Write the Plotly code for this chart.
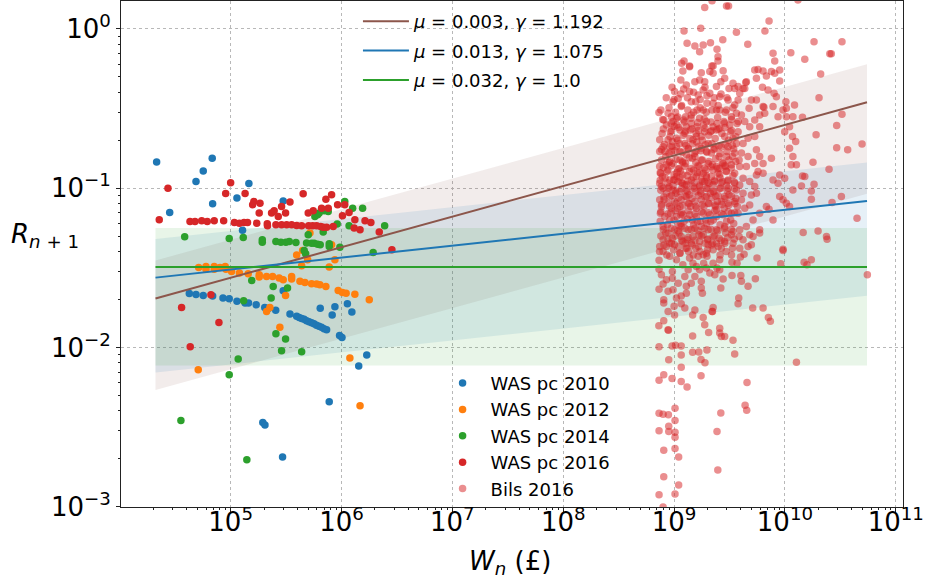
import plotly.graph_objects as go

# ---------------- data ----------------
x_tick_vals = [1e5, 1e6, 1e7, 1e8, 1e9, 1e10, 1e11]
x_tick_text = ["10<sup>5</sup>", "10<sup>6</sup>", "10<sup>7</sup>", "10<sup>8</sup>",
               "10<sup>9</sup>", "10<sup>10</sup>", "10<sup>11</sup>"]
y_tick_vals = [1e-3, 1e-2, 1e-1, 1e0]
y_tick_text = ["10<sup>−3</sup>", "10<sup>−2</sup>", "10<sup>−1</sup>", "10<sup>0</sup>"]

was2010_w = [2.15e4, 6.82e4, 5.66e4, 4.87e4, 1.46e5, 1.14e5, 6.88e4, 2.82e4, 1.28e5, 2.98e5,
             4.24e4, 4.87e4, 5.66e4, 6.88e4, 8.53e4, 9.71e4, 1.14e5, 1.35e5, 1.45e5, 1.70e5,
             2.03e5, 2.21e5, 2.55e5, 3.43e5,
             3.94e5, 4.15e5, 4.37e5, 4.6e5, 4.84e5, 5.1e5, 5.37e5, 5.65e5, 5.95e5, 6.26e5,
             6.6e5, 6.95e5, 7.34e5,
             2.98e5, 6.43e5, 8.72e5, 8.24e5, 1.13e6, 1.24e6, 9.61e5, 1.01e6, 1.69e6, 1.43e6,
             7.75e5, 1.95e5, 2.04e5, 2.94e5]
was2010_r = [0.146, 0.154, 0.128, 0.110, 0.107, 0.0866, 0.0797, 0.0703, 0.0545, 0.0829,
             0.0218, 0.0215, 0.0212, 0.0210, 0.0204, 0.0202, 0.0195, 0.0190, 0.0190, 0.0185,
             0.0178, 0.0176, 0.0171, 0.0162,
             0.0157, 0.0154, 0.0152, 0.0150, 0.0147, 0.0145, 0.0143, 0.0141, 0.0138, 0.0136,
             0.0134, 0.0131, 0.0129,
             0.0227, 0.0176, 0.0180, 0.0160, 0.0188, 0.0167, 0.0119, 0.01156, 0.00896, 0.00764,
             0.00456, 0.00338, 0.00326, 0.00205]

was2012_w = [5.15e4, 5.99e4, 5.99e4, 7.11e4, 7.11e4, 8.01e4, 8.94e4, 9.07e4, 1.02e5, 1.20e5,
             1.44e5, 1.81e5, 1.81e5, 2.11e5, 2.39e5, 2.74e5, 2.98e5, 3.55e5, 3.55e5, 4.22e5,
             4.68e5, 5.37e5, 5.96e5, 6.38e5, 7.23e5, 9.34e5, 1.02e6, 1.10e6, 1.32e6, 1.78e6,
             3.94e5, 4.46e5, 5.19e5, 4.95e5, 8.72e5, 7.75e5, 8.14e5, 4.37e5, 3.13e5, 2.78e5,
             2.11e5, 2.26e5, 1.19e6, 5.1e4, 1.47e6]
was2012_r = [0.0318, 0.0322, 0.0310, 0.0322, 0.0310, 0.0318, 0.0322, 0.0310, 0.0300, 0.0293,
             0.0290, 0.0286, 0.0277, 0.0279, 0.0279, 0.0273, 0.0266, 0.0279, 0.0269, 0.0260,
             0.0256, 0.0251, 0.0250, 0.0247, 0.0241, 0.0228, 0.0221, 0.0219, 0.0216, 0.0199,
             0.0380, 0.0406, 0.0522, 0.0355, 0.0355, 0.0320, 0.0441, 0.0326, 0.0212, 0.0134,
             0.0168, 0.0178, 0.00858, 0.00724, 0.00431]

was2014_w = [3.85e4, 9.71e4, 1.30e5, 1.93e5, 1.93e5, 2.56e5, 2.84e5, 3.15e5, 3.38e5, 3.88e5,
             4.84e5, 5.37e5, 5.67e5, 6.09e5, 6.43e5, 7.75e5, 7.75e5, 9.67e5, 1.93e6, 5.01e5,
             6.84e5, 9.15e5, 1.07e6, 1.26e6, 1.55e6, 5.75e5, 6.09e5, 6.29e5, 7.59e5, 6.98e5,
             1.17e6, 2.45e6, 4.75e5, 4.61e5, 1.55e5, 2.42e5, 3.26e5, 2.32e5, 1.31e5, 2.56e5,
             3.13e5, 2.88e5, 4.37e5, 1.17e5, 9.71e4, 3.56e4, 1.40e5]
was2014_r = [0.0495, 0.0483, 0.049, 0.0474, 0.0458, 0.0462, 0.0458, 0.0458, 0.0462, 0.0456,
             0.0452, 0.045, 0.045, 0.0445, 0.0441, 0.0448, 0.0430, 0.0426, 0.0394, 0.0509,
             0.0530, 0.0595, 0.0824, 0.0749, 0.0749, 0.0664, 0.068, 0.0697, 0.0714, 0.0721,
             0.058, 0.058, 0.0387, 0.0406, 0.0263, 0.0241, 0.0236, 0.0204, 0.0196, 0.0122,
             0.0113, 0.00953, 0.0094, 0.00846, 0.00674, 0.00347, 0.00197]

was2016_w = [2.72e4, 2.27e4, 1.0e5, 9.02e4, 1.35e5, 1.62e5, 1.58e5, 1.84e5, 1.81e5, 2.34e5,
             2.47e5, 2.69e5, 2.88e5, 3.13e5, 3.43e5, 4.51e5, 5.01e5, 5.56e5, 6.61e5, 7.23e5,
             7.59e5, 8.14e5, 9.22e5, 1.07e6, 1.02e6, 1.17e6, 1.32e6, 1.63e6, 1.84e6, 1.30e6,
             1.47e6, 2.19e6, 2.85e6,
             4.30e4, 4.77e4, 5.48e4, 6.15e4, 7.11e4, 8.65e4, 1.08e5, 1.20e5, 1.32e5, 1.42e5,
             1.72e5, 2.14e5, 2.15e5, 2.56e5, 2.88e5, 3.20e5, 3.55e5, 3.94e5, 4.37e5, 5.05e5,
             5.49e5, 5.96e5, 6.48e5, 6.84e5, 7.34e5, 8.42e5,
             6.64e4, 3.61e4, 7.84e4, 4.32e4]
was2016_r = [0.100, 0.0633, 0.108, 0.0925, 0.0925, 0.0824, 0.0786, 0.0805, 0.0697, 0.0697,
             0.0721, 0.0664, 0.0767, 0.0697, 0.0817, 0.0921, 0.0697, 0.0721, 0.0749, 0.0853,
             0.0749, 0.0908, 0.0786, 0.0786, 0.067, 0.0703, 0.0633, 0.0623, 0.0608, 0.0561,
             0.0547, 0.0530, 0.0410,
             0.0617, 0.0617, 0.0623, 0.0617, 0.0623, 0.0623, 0.0608, 0.0603, 0.0608, 0.0608,
             0.0603, 0.0597, 0.058, 0.0589, 0.0589, 0.0589, 0.0589, 0.0582, 0.058, 0.058,
             0.058, 0.058, 0.0574, 0.0569, 0.0569, 0.0574,
             0.0214, 0.0178, 0.01435, 0.0101]

# Bils 2016 -- upper outliers
bils_outer_w = [2.2e9, 1.89e9, 2.97e9, 3.1e9, 1.31e10, 7.19e9, 1.23e9, 1.74e9, 3.65e9, 6.6e9,
                1.31e9, 1.54e9, 1.83e9, 2.13e9, 2.75e9, 4.62e9, 2.44e9, 1.83e10, 3.27e10, 1.13e10,
                7.81e9, 2.54e10, 2.62e10, 1.51e10, 8.09e9, 1.17e9, 1.23e9, 1.38e9, 2.19e9, 2.49e9,
                2.10e10, 2.03e10, 3.27e10, 2.93e10, 4.96e10, 3.68e10, 2.93e10, 1.91e10, 1.79e10, 2.50e10,
                1.83e10, 1.73e10, 1.73e10, 2.66e10, 3.23e10, 4.47e10, 1.46e10, 1.99e10, 2.37e10, 2.40e10,
                9.61e9, 1.44e10, 1.51e10]
bils_outer_r = [1.50, 1.36, 1.39, 1.39, 1.52, 1.12, 0.969, 1.01, 0.951, 0.969,
                0.811, 0.78, 0.792, 0.819, 0.855, 0.80, 0.744, 0.831, 0.831, 0.709,
                0.702, 0.699, 0.699, 0.644, 0.629, 0.608, 0.629, 0.585, 0.585, 0.629,
                0.521, 0.370, 0.291, 0.247, 0.189, 0.174, 0.179, 0.216, 0.1454, 0.1314,
                0.1058, 0.0961, 0.0852, 0.0812, 0.0886, 0.0648, 0.0526, 0.0539, 0.0497, 0.0478,
                0.0414, 0.1193, 0.1182]

# Bils 2016 -- right flank of the cloud
bils_mid_w = [5.34e9, 5.72e9, 5.53e9, 6.35e9, 6.8e9, 7.55e9, 8.09e9, 8.97e9, 8.97e9, 4.49e9,
              4.34e9, 3.78e9, 3.52e9, 6.27e9, 7.04e9, 7.98e9, 8.37e9, 1.02e10, 1.22e10, 1.03e10,
              9.61e9, 8.67e9, 1.03e10, 1.18e10, 1.44e10, 7.81e9, 6.46e9, 5.92e9, 1.10e10, 9.95e9,
              1.17e10, 1.25e10, 1.10e10, 1.18e10, 7.55e9, 6.35e9, 5.72e9, 6.35e9, 8.97e9, 9.95e9,
              1.14e10, 1.27e10, 7.81e9, 8.67e9, 8.97e9, 9.61e9, 6.8e9, 7.19e9, 7.81e9, 5.92e9,
              4.81e9, 4.98e9, 5.53e9, 5.34e9, 4.81e9, 1.18e10, 1.41e10, 1.03e10, 1.10e10]
bils_mid_r = [0.552, 0.556, 0.489, 0.544, 0.506, 0.539, 0.526, 0.552, 0.471, 0.466,
              0.423, 0.434, 0.423, 0.430, 0.413, 0.394, 0.375, 0.349, 0.333, 0.317,
              0.310, 0.281, 0.281, 0.281, 0.279, 0.325, 0.322, 0.288, 0.243, 0.226,
              0.211, 0.196, 0.178, 0.158, 0.154, 0.143, 0.127, 0.124, 0.121, 0.1154,
              0.140, 0.140, 0.1126, 0.1073, 0.0886, 0.0844, 0.0766, 0.0738, 0.0632, 0.0547,
              0.0509, 0.0441, 0.0929, 0.1023, 0.0785, 0.0975, 0.1033, 0.0804, 0.0766]

# Bils 2016 -- dense core
bils_core_w = [7.3e8, 8.83e8, 9.6e8, 1.01e9, 1.15e9, 1.2e9, 1.38e9, 1.54e9, 1.70e9, 1.76e9,
               1.89e9, 2.10e9, 2.25e9, 2.25e9, 2.77e9, 2.64e9, 2.86e9, 3.13e9, 3.40e9, 3.78e9,
               3.91e9, 4.19e9, 4.43e9, 4.75e9, 4.98e9, 5.53e9, 6.35e9, 6.57e9, 9.79e8, 1.09e9,
               1.16e9, 1.27e9, 1.43e9, 1.57e9, 1.61e9, 1.83e9, 1.98e9, 2.25e9, 2.41e9, 2.58e9,
               2.97e9, 3.29e9, 3.65e9, 4.05e9, 4.34e9, 4.81e9, 5.34e9, 5.92e9, 5.34e9, 4.65e9,
               4.19e9, 3.40e9, 2.86e9, 2.58e9, 2.25e9, 1.96e9, 1.70e9, 1.43e9, 1.29e9, 1.13e9,
               9.79e8, 8.83e8, 7.42e8, 7.42e8, 8.24e8, 9.14e8, 1.05e9, 1.25e9, 1.48e9, 1.76e9,
               2.03e9, 2.33e9, 2.67e9, 3.07e9, 3.52e9, 4.05e9, 4.65e9, 5.53e9, 5.92e9, 5.34e9,
               4.49e9, 3.91e9, 3.29e9, 2.77e9, 2.41e9, 2.03e9, 1.76e9, 1.54e9, 1.29e9, 1.13e9,
               9.79e8, 8.53e8, 7.42e8, 7.42e8, 7.96e8, 9.14e8, 1.05e9, 1.2e9, 1.38e9, 1.59e9,
               1.83e9, 2.17e9, 2.49e9, 2.97e9, 3.52e9, 4.19e9, 4.81e9, 5.53e9, 4.98e9, 4.19e9,
               3.65e9, 3.07e9, 2.58e9, 2.25e9, 1.96e9, 1.70e9, 1.48e9, 1.29e9, 1.13e9, 9.79e8,
               8.53e8, 7.42e8, 7.69e8, 8.83e8, 1.01e9, 1.16e9, 1.34e9, 1.54e9, 1.76e9, 2.03e9,
               2.33e9, 2.67e9, 3.07e9, 3.52e9, 4.05e9, 4.34e9, 3.78e9, 3.29e9, 2.77e9, 2.41e9,
               2.10e9, 1.83e9, 1.59e9, 1.38e9, 1.2e9, 1.05e9, 9.14e8, 7.96e8, 8.83e8, 1.01e9,
               1.16e9, 1.34e9, 1.54e9, 1.76e9, 2.03e9, 2.41e9, 2.86e9, 3.40e9, 3.91e9, 4.49e9,
               5.16e9, 5.92e9, 5.16e9, 4.19e9, 3.40e9, 2.86e9, 2.41e9, 2.03e9, 1.70e9, 1.43e9,
               1.2e9, 1.01e9, 8.53e8, 7.96e8, 9.46e8, 1.25e9, 1.59e9, 2.17e9, 2.97e9, 2.58e9,
               2.10e9, 1.83e9, 1.65e9, 1.38e9, 1.29e9, 3.07e9, 3.52e9, 2.41e9, 9.14e8, 8.53e8,
               9.46e8, 1.05e9, 1.43e9, 1.57e9, 1.96e9, 2.41e9, 1.89e9, 1.25e9, 1.05e9, 3.18e9,
               3.78e9, 3.65e9, 1.76e9, 1.34e9, 1.13e9, 9.46e8, 7.96e8, 3.07e9, 3.52e9, 2.33e9,
               1.89e9, 1.43e9, 1.09e9, 9.14e8, 1.29e9, 1.96e9, 2.86e9, 3.91e9, 1.59e9, 2.41e9,
               1.13e9, 8.24e8, 1.48e9, 2.25e9, 3.29e9, 3.91e9, 1.16e9, 9.14e8, 1.83e9, 2.67e9,
               4.65e9, 5.92e9, 1.70e9, 2.49e9]
bils_core_r = [0.298, 0.295, 0.430, 0.404, 0.478, 0.544, 0.579, 0.466, 0.478, 0.531,
               0.466, 0.539, 0.585, 0.526, 0.546, 0.466, 0.489, 0.423, 0.455, 0.358,
               0.394, 0.423, 0.460, 0.317, 0.358, 0.358, 0.325, 0.295, 0.349, 0.366,
               0.325, 0.281, 0.349, 0.349, 0.310, 0.310, 0.341, 0.341, 0.310, 0.310,
               0.310, 0.281, 0.295, 0.288, 0.262, 0.243, 0.268, 0.243, 0.211, 0.206,
               0.191, 0.206, 0.211, 0.238, 0.243, 0.262, 0.275, 0.255, 0.243, 0.232,
               0.262, 0.201, 0.201, 0.170, 0.170, 0.182, 0.182, 0.191, 0.201, 0.211,
               0.191, 0.178, 0.182, 0.182, 0.166, 0.166, 0.158, 0.174, 0.158, 0.143,
               0.1366, 0.1366, 0.140, 0.143, 0.1366, 0.143, 0.150, 0.158, 0.162, 0.150,
               0.143, 0.140, 0.1366, 0.1073, 0.0999, 0.1126, 0.1182, 0.121, 0.127, 0.1182,
               0.124, 0.1182, 0.124, 0.127, 0.124, 0.1154, 0.110, 0.121, 0.0907, 0.0929,
               0.0975, 0.0999, 0.0999, 0.0952, 0.0999, 0.1023, 0.1023, 0.0975, 0.0952, 0.0975,
               0.0929, 0.0844, 0.0766, 0.0804, 0.0824, 0.0844, 0.0804, 0.0824, 0.0844, 0.0804,
               0.0785, 0.0824, 0.0804, 0.0824, 0.0844, 0.0748, 0.0696, 0.0696, 0.068, 0.0663,
               0.068, 0.0696, 0.0663, 0.068, 0.068, 0.0663, 0.0632, 0.0574, 0.0522, 0.0547,
               0.0574, 0.0547, 0.056, 0.0574, 0.0547, 0.0547, 0.0574, 0.0534, 0.0547, 0.0574,
               0.0632, 0.0522, 0.0497, 0.0474, 0.0451, 0.0462, 0.0451, 0.0441, 0.0462, 0.0451,
               0.0462, 0.0441, 0.043, 0.0474, 0.0748, 0.1048, 0.211, 0.166, 0.158, 0.375,
               0.394, 0.413, 0.385, 0.404, 0.444, 0.358, 0.333, 0.434, 0.147, 0.249,
               0.281, 0.275, 0.288, 0.170, 0.170, 0.232, 0.226, 0.221, 0.206, 0.249,
               0.226, 0.191, 0.178, 0.178, 0.170, 0.170, 0.182, 0.1126, 0.1073, 0.110,
               0.110, 0.1126, 0.110, 0.0886, 0.0886, 0.0886, 0.0886, 0.1048, 0.0748, 0.0731,
               0.0766, 0.0663, 0.0497, 0.0497, 0.0509, 0.042, 0.0497, 0.0451, 0.0509, 0.042,
               0.043, 0.0696, 0.719, 0.669]

bils_fill_w = [8.07e8, 9.27e8, 1.06e9, 1.22e9, 1.40e9, 1.61e9, 1.85e9, 2.13e9, 2.44e9, 2.81e9, 3.22e9, 3.70e9,
               8.41e8, 9.66e8, 1.11e9, 1.27e9, 1.46e9, 1.68e9, 1.93e9, 2.22e9, 2.55e9, 2.92e9, 3.36e9, 3.86e9,
               7.85e8, 9.02e8, 1.04e9, 1.19e9, 1.37e9, 1.57e9, 1.80e9, 2.07e9, 2.38e9, 2.73e9, 3.13e9, 3.60e9,
               8.12e8, 9.33e8, 1.07e9, 1.23e9, 1.41e9, 1.62e9, 1.86e9, 2.14e9, 2.46e9, 2.83e9, 3.24e9, 3.73e9,
               8.41e8, 9.66e8, 1.11e9, 1.27e9, 1.46e9, 1.68e9, 1.93e9, 2.22e9, 2.55e9, 2.92e9, 3.36e9, 3.86e9,
               7.53e8, 7.69e8, 7.58e8, 7.42e8, 8.65e8, 1.15e9, 1.32e9, 2.0e9, 1.57e9, 9.9e8, 2.58e9, 2.13e9]
bils_fill_r = [0.268, 0.226, 0.249, 0.268, 0.232, 0.243, 0.249, 0.226, 0.255, 0.262, 0.226, 0.255,
               0.158, 0.196, 0.133, 0.143, 0.154, 0.137, 0.130, 0.140, 0.158, 0.137, 0.158, 0.150,
               0.118, 0.102, 0.093, 0.107, 0.091, 0.095, 0.110, 0.107, 0.089, 0.110, 0.091, 0.0865,
               0.0844, 0.0696, 0.0748, 0.0617, 0.0766, 0.0617, 0.0766, 0.0617, 0.0824, 0.0748, 0.0632, 0.0766,
               0.0522, 0.0485, 0.0522, 0.042, 0.0632, 0.0509, 0.0632, 0.0451, 0.0485, 0.0522, 0.042, 0.0497,
               0.0696, 0.1023, 0.124, 0.043, 0.127, 0.068, 0.0474, 0.0474, 0.042, 0.1126, 0.1334, 0.0929]

# Bils 2016 -- more of the saturated core
bils_dense_w = [7.6e8, 9.0e8, 1.03e9, 1.17e9, 1.33e9, 1.50e9, 1.72e9, 1.95e9, 2.2e9, 2.5e9, 2.9e9, 3.4e9,
                7.8e8, 9.2e8, 1.08e9, 1.21e9, 1.39e9, 1.58e9, 1.8e9, 2.05e9, 2.35e9, 2.7e9, 3.1e9, 3.6e9,
                7.7e8, 9.0e8, 1.02e9, 1.18e9, 1.35e9, 1.52e9, 1.74e9, 1.98e9, 2.28e9, 2.6e9, 3.0e9, 3.45e9,
                7.5e8, 8.8e8, 1.0e9, 1.14e9, 1.31e9, 1.5e9, 1.7e9, 1.95e9, 2.24e9, 2.58e9, 2.95e9, 3.4e9,
                7.6e8, 8.9e8, 1.03e9, 1.17e9, 1.33e9, 1.52e9, 1.73e9, 1.99e9, 2.29e9, 2.63e9, 3.02e9, 3.5e9,
                7.7e8, 9.1e8, 1.04e9, 1.2e9, 1.37e9, 1.57e9, 1.8e9, 2.06e9, 2.36e9, 2.7e9, 3.1e9, 3.55e9,
                7.5e8, 8.7e8, 1.0e9, 1.15e9, 1.32e9, 1.5e9, 1.72e9, 1.97e9, 2.26e9, 2.6e9, 2.98e9, 3.45e9,
                7.6e8, 8.8e8, 1.02e9, 1.17e9, 1.34e9, 1.54e9, 1.77e9, 2.02e9, 2.32e9, 2.66e9, 3.05e9, 3.5e9,
                7.4e8, 8.6e8, 9.9e8, 1.13e9, 1.3e9, 1.49e9, 1.71e9, 1.96e9, 2.25e9, 2.6e9, 2.95e9, 3.3e9,
                7.9e8, 9.4e8, 1.08e9, 1.24e9, 1.42e9, 1.63e9, 1.87e9, 2.15e9, 2.47e9, 2.85e9, 3.3e9, 3.8e9,
                7.7e8, 9.0e8, 1.04e9, 1.19e9, 1.37e9, 1.57e9, 1.8e9, 2.06e9, 2.37e9, 2.72e9, 3.12e9, 3.6e9,
                7.5e8, 8.7e8, 1.01e9, 1.16e9, 1.33e9, 1.53e9, 1.76e9, 2.02e9, 2.32e9, 2.66e9, 3.05e9, 3.5e9,
                7.6e8, 8.8e8, 1.02e9, 1.17e9, 1.34e9, 1.54e9, 1.77e9, 2.03e9, 2.33e9, 2.68e9, 3.08e9, 3.52e9]
bils_dense_r = [0.31, 0.32, 0.30, 0.33, 0.31, 0.30, 0.32, 0.30, 0.31, 0.33, 0.30, 0.32,
                0.22, 0.21, 0.20, 0.215, 0.205, 0.22, 0.20, 0.215, 0.205, 0.22, 0.20, 0.21,
                0.175, 0.165, 0.172, 0.168, 0.176, 0.165, 0.172, 0.168, 0.175, 0.165, 0.17, 0.176,
                0.125, 0.13, 0.122, 0.128, 0.12, 0.13, 0.125, 0.12, 0.13, 0.122, 0.128, 0.12,
                0.097, 0.1, 0.096, 0.099, 0.095, 0.1, 0.096, 0.099, 0.095, 0.1, 0.096, 0.099,
                0.079, 0.077, 0.08, 0.078, 0.08, 0.077, 0.079, 0.08, 0.077, 0.079, 0.078, 0.08,
                0.062, 0.059, 0.063, 0.06, 0.064, 0.059, 0.062, 0.06, 0.063, 0.059, 0.062, 0.06,
                0.05, 0.048, 0.05, 0.047, 0.049, 0.047, 0.05, 0.048, 0.05, 0.047, 0.049, 0.048,
                0.04, 0.038, 0.041, 0.039, 0.042, 0.038, 0.04, 0.039, 0.041, 0.038, 0.04, 0.038,
                0.27, 0.255, 0.28, 0.26, 0.275, 0.258, 0.272, 0.26, 0.278, 0.256, 0.27, 0.262,
                0.15, 0.145, 0.152, 0.147, 0.155, 0.145, 0.15, 0.147, 0.153, 0.145, 0.15, 0.147,
                0.112, 0.108, 0.113, 0.109, 0.111, 0.108, 0.113, 0.109, 0.112, 0.108, 0.111, 0.109,
                0.071, 0.069, 0.072, 0.07, 0.072, 0.069, 0.071, 0.07, 0.072, 0.069, 0.071, 0.07]

bils_dense2_w = [8.0e8, 9.5e8, 1.1e9, 1.26e9, 1.45e9, 1.66e9, 1.9e9, 2.18e9, 2.5e9, 2.88e9, 3.3e9, 1.0e9,
                 8.2e8, 9.6e8, 1.12e9, 1.28e9, 1.47e9, 1.68e9, 1.92e9, 2.2e9, 2.53e9, 2.9e9, 3.35e9, 1.6e9,
                 8.0e8, 9.4e8, 1.09e9, 1.25e9, 1.43e9, 1.64e9, 1.88e9, 2.16e9, 2.48e9, 2.85e9, 3.28e9, 1.2e9,
                 8.1e8, 9.5e8, 1.1e9, 1.26e9, 1.45e9, 1.66e9, 1.9e9, 2.18e9, 2.5e9, 2.88e9, 3.3e9, 1.75e9,
                 8.0e8, 9.4e8, 1.09e9, 1.25e9, 1.43e9, 1.64e9, 1.88e9, 2.16e9, 2.48e9, 2.85e9, 3.28e9, 1.1e9,
                 8.1e8, 9.5e8, 1.1e9, 1.26e9, 1.45e9, 1.66e9, 1.9e9, 2.18e9, 2.5e9, 2.88e9, 1.35e9, 2.0e9,
                 8.5e8, 1.0e9, 1.15e9, 1.32e9, 1.5e9, 1.72e9, 1.98e9, 2.3e9, 2.65e9, 3.0e9, 1.22e9, 1.9e9,
                 8.3e8, 9.8e8, 1.13e9, 1.3e9, 1.49e9, 1.7e9, 1.96e9, 2.25e9, 2.6e9, 2.98e9, 1.06e9, 1.62e9]
bils_dense2_r = [0.235, 0.23, 0.24, 0.228, 0.236, 0.23, 0.238, 0.229, 0.234, 0.24, 0.23, 0.245,
                 0.188, 0.183, 0.19, 0.185, 0.19, 0.183, 0.187, 0.19, 0.184, 0.188, 0.185, 0.195,
                 0.135, 0.138, 0.132, 0.137, 0.133, 0.138, 0.134, 0.136, 0.133, 0.138, 0.134, 0.145,
                 0.088, 0.09, 0.087, 0.089, 0.086, 0.09, 0.088, 0.087, 0.09, 0.086, 0.089, 0.093,
                 0.055, 0.056, 0.054, 0.056, 0.055, 0.054, 0.056, 0.055, 0.054, 0.056, 0.055, 0.058,
                 0.044, 0.045, 0.043, 0.045, 0.044, 0.043, 0.045, 0.044, 0.043, 0.045, 0.04, 0.041,
                 0.37, 0.36, 0.39, 0.37, 0.40, 0.36, 0.38, 0.37, 0.39, 0.37, 0.42, 0.43,
                 0.116, 0.104, 0.117, 0.105, 0.117, 0.104, 0.117, 0.105, 0.116, 0.104, 0.125, 0.125]

# Bils 2016 -- lower tail
bils_low_w = [5.54e10, 1.49e10, 1.73e10, 1.58e10, 9.16e9, 9.61e9, 5.6e9, 4.28e9, 3.97e9, 3.33e9,
              3.70e9, 3.33e9, 4.0e9, 4.05e9, 4.65e9, 5.41e9, 3.83e9, 3.78e9, 5.12e9, 6.35e9,
              7.09e9, 7.39e9, 3.40e9, 3.52e9, 1.27e10, 2.58e9, 2.58e9, 2.67e9, 2.86e9, 2.25e9,
              2.2e9, 2.05e9, 1.89e9, 1.83e9, 1.98e9, 1.67e9, 1.47e9, 1.75e9, 1.90e9, 1.75e9,
              1.47e9, 1.54e9, 1.47e9, 1.16e9, 1.16e9, 1.16e9, 9.59e8, 1.03e9, 8.95e8, 7.32e8,
              7.29e8, 8.89e8, 8.07e8, 8.07e8, 7.32e8, 9.59e8, 1.16e9, 1.31e9, 4.55e9, 4.37e9,
              4.52e9, 2.64e9, 2.44e9, 2.48e9, 1.02e9, 1.02e9, 1.02e9, 1.02e9, 1.02e9, 7.32e8,
              7.96e8, 8.89e8, 7.32e8, 8.95e8, 8.95e8, 8.07e8, 1.10e9, 8.07e8, 1.10e9, 7.32e8,
              1.02e9, 7.96e8]
bils_low_r = [0.0286, 0.0342, 0.0355, 0.033, 0.0335, 0.0406, 0.0364, 0.0384, 0.0369, 0.0342,
              0.0338, 0.0283, 0.0283, 0.026, 0.0242, 0.027, 0.0204, 0.0188, 0.0177, 0.0177,
              0.0154, 0.0146, 0.0111, 0.00909, 0.00806, 0.0132, 0.0123, 0.0117, 0.0117, 0.0178,
              0.0168, 0.0124, 0.0139, 0.0154, 0.00963, 0.00935, 0.00931, 0.00841, 0.00802, 0.00665,
              0.0118, 0.0172, 0.016, 0.0102, 0.00896, 0.0075, 0.0102, 0.0103, 0.00837, 0.0101,
              0.0137, 0.0128, 0.0147, 0.00674, 0.00621, 0.00639, 0.00612, 0.00564, 0.00603, 0.00433,
              0.00403, 0.00388, 0.00296, 0.0017, 0.00415, 0.00347, 0.00293, 0.00273, 0.00232, 0.00386,
              0.0038, 0.00378, 0.003, 0.0032, 0.00296, 0.00226, 0.00205, 0.00154, 0.00137, 0.00119,
              0.0012, 0.000997]

bils_base_w = [7.32e8, 7.32e8, 7.32e8, 7.96e8, 8.07e8, 8.07e8, 8.83e8, 8.83e8, 8.83e8, 9.66e8,
               9.66e8, 1.0e9, 1.01e9, 1.09e9, 1.16e9, 1.16e9, 1.2e9, 1.29e9, 1.29e9, 1.34e9,
               1.48e9, 1.54e9, 1.65e9, 1.76e9, 1.76e9, 1.80e9, 1.85e9, 1.98e9, 2.10e9, 2.22e9,
               2.33e9, 2.44e9, 2.58e9, 2.58e9, 2.77e9, 2.64e9, 9.14e8, 1.05e9, 1.13e9, 1.38e9,
               1.59e9, 1.83e9, 1.25e9, 9.79e8, 8.53e8, 7.69e8, 1.43e9, 1.70e9, 7.96e8, 1.96e9,
               2.25e9, 1.05e9, 1.25e9]
bils_base_r = [0.0352, 0.031, 0.0232, 0.025, 0.0199, 0.019, 0.0225, 0.0168, 0.0129, 0.030,
               0.0272, 0.0181, 0.016, 0.0253, 0.021, 0.0188, 0.033, 0.0242, 0.0219, 0.0307,
               0.0338, 0.0279, 0.0373, 0.026, 0.0236, 0.0219, 0.0338, 0.0373, 0.0293, 0.0168,
               0.0286, 0.0315, 0.0355, 0.0307, 0.0269, 0.0236, 0.0373, 0.0355, 0.0391, 0.0364,
               0.0322, 0.0382, 0.0279, 0.023, 0.0266, 0.0286, 0.0253, 0.0307, 0.040, 0.0315,
               0.0338, 0.0204, 0.0177]

# fitted models  R = mu * W^(gamma-1), band = (mu +/- sigma) * W^(gamma-1)
fit_labels = ["<i>μ</i> = 0.003, <i>γ</i> = 1.192",
              "<i>μ</i> = 0.013, <i>γ</i> = 1.075",
              "<i>μ</i> = 0.032, <i>γ</i> = 1.0"]
fit_mu = [0.003, 0.013, 0.032]
fit_gamma = [1.192, 1.075, 1.0]
fit_sigma = [0.0022, 0.0097, 0.0243]
fit_w = [2.1e4, 5.5e10]

fit_colors = ["#8c564b", "#1f77b4", "#2ca02c"]
fit_fills = ["rgba(140,86,75,0.11)", "rgba(31,119,180,0.11)", "rgba(44,160,44,0.11)"]

# ---------------- figure ----------------
fig = go.Figure()

for mu, g, s, fc in zip(fit_mu, fit_gamma, fit_sigma, fit_fills):
    up = [(mu + s) * w ** (g - 1) for w in fit_w]
    lo = [(mu - s) * w ** (g - 1) for w in fit_w]
    fig.add_trace(go.Scatter(
        x=[fit_w[0], fit_w[1], fit_w[1], fit_w[0], fit_w[0]],
        y=[up[0], up[1], lo[1], lo[0], up[0]],
        fill="toself", fillcolor=fc, mode="lines", line=dict(width=0),
        showlegend=False, hoverinfo="skip"))

series = [("WAS pc 2010", was2010_w, was2010_r, "#1f77b4"),
          ("WAS pc 2012", was2012_w, was2012_r, "#ff7f0e"),
          ("WAS pc 2014", was2014_w, was2014_r, "#2ca02c"),
          ("WAS pc 2016", was2016_w, was2016_r, "#d62728")]
for name, xs, ys, col in series:
    fig.add_trace(go.Scatter(x=xs, y=ys, mode="markers", name=name,
                             marker=dict(size=7.5, color=col), legend="legend2"))

bils_w = (bils_outer_w + bils_mid_w + bils_core_w + bils_fill_w + bils_dense_w
          + bils_dense2_w + bils_low_w + bils_base_w)
bils_r = (bils_outer_r + bils_mid_r + bils_core_r + bils_fill_r + bils_dense_r
          + bils_dense2_r + bils_low_r + bils_base_r)
fig.add_trace(go.Scatter(x=bils_w, y=bils_r, mode="markers", name="Bils 2016",
                         marker=dict(size=7.5, color="#d62728", opacity=0.52),
                         legend="legend2"))

for lab, mu, g, col in zip(fit_labels, fit_mu, fit_gamma, fit_colors):
    fig.add_trace(go.Scatter(x=fit_w, y=[mu * w ** (g - 1) for w in fit_w], mode="lines",
                             name=lab, line=dict(color=col, width=2),
                             legend="legend", legendgroup=lab))

axis_common = dict(
    type="log", showgrid=True, gridcolor="#b8b8b8", griddash="dot", gridwidth=0.8,
    showline=True, linecolor="#222222", linewidth=1, mirror=True,
    ticks="outside", ticklen=4, tickcolor="#222222", tickmode="array",
    tickfont=dict(size=26, color="black"), zeroline=False,
    minor=dict(ticks="outside", ticklen=2, tickcolor="#222222", dtick="D1", showgrid=False),
)

fig.update_layout(
    width=927, height=582,
    margin=dict(l=121, r=24, t=1, b=75),
    plot_bgcolor="white", paper_bgcolor="white",
    font=dict(family="DejaVu Sans", color="black"),
    xaxis=dict(range=[4.011, 11.065], tickvals=x_tick_vals, ticktext=x_tick_text,
               ticklabelstandoff=-12, **axis_common),
    yaxis=dict(range=[-3.002, 0.175], tickvals=y_tick_vals, ticktext=y_tick_text,
               **axis_common),
    legend=dict(x=0.303, y=0.996, xanchor="left", yanchor="top", itemwidth=46,
                bgcolor="rgba(0,0,0,0)", font=dict(size=18, color="black"),
                tracegroupgap=3),
    legend2=dict(x=0.401, y=0.281, xanchor="left", yanchor="top", itemwidth=46,
                 bgcolor="rgba(0,0,0,0)", font=dict(size=18, color="black")),
    annotations=[
        dict(text="<i>W</i><sub><i>n</i></sub> (£)", x=0.497, y=-0.109,
             xref="paper", yref="paper", showarrow=False, xanchor="center",
             yanchor="middle", font=dict(size=26)),
        dict(text="<i>R</i><sub><i>n</i> + 1</sub>", x=-0.097, y=0.5375,
             xref="paper", yref="paper", showarrow=False, xanchor="center",
             yanchor="middle", font=dict(size=26)),
    ],
)

fig.write_html("out.html")
